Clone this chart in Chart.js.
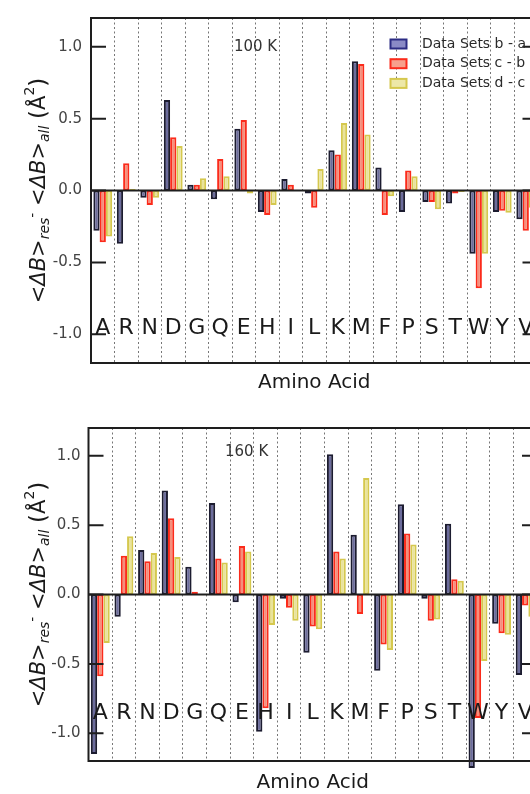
<!DOCTYPE html>
<html>
<head>
<meta charset="utf-8">
<script src="https://cdn.jsdelivr.net/npm/chart.js@4.4.1/dist/chart.umd.min.js"></script>
<style>
  html, body { margin: 0; padding: 0; background: #fff; overflow: hidden; }
  body { width: 530px; height: 794px; position: relative; }
  canvas { position: absolute; left: 0; }
  #c100 { top: 0; }
  #c160 { top: 396px; }
</style>
</head>
<body>
<canvas id="c100" width="560" height="396"></canvas>
<canvas id="c160" width="560" height="400"></canvas>
<script>
// residues on the x axis (no C)
var aminoAcids = ['A', 'R', 'N', 'D', 'G', 'Q', 'E', 'H', 'I', 'L', 'K', 'M', 'F', 'P', 'S', 'T', 'W', 'Y', 'V'];
var yTicks = [-1.0, -0.5, 0.0, 0.5, 1.0];
var seriesNames = ['Data Sets b - a', 'Data Sets c - b', 'Data Sets d - c'];

// 100 K
var ba100 = [-0.28, -0.37, -0.05, 0.63, 0.04, -0.06, 0.43, -0.15, 0.08, -0.02, 0.28, 0.90, 0.16, -0.15, -0.08, -0.09, -0.44, -0.15, -0.20];
var cb100 = [-0.36, 0.19, -0.10, 0.37, 0.04, 0.22, 0.49, -0.17, 0.04, -0.12, 0.25, 0.88, -0.17, 0.14, -0.08, -0.02, -0.68, -0.14, -0.28];
var dc100 = [-0.32, 0.01, -0.05, 0.31, 0.085, 0.10, -0.02, -0.10, 0.0, 0.15, 0.47, 0.39, -0.04, 0.10, -0.13, -0.01, -0.44, -0.155, -0.12];

// 160 K
var ba160 = [-1.15, -0.16, 0.32, 0.75, 0.20, 0.66, -0.055, -0.99, -0.03, -0.42, 1.01, 0.43, -0.55, 0.65, -0.03, 0.51, -1.25, -0.21, -0.58];
var cb160 = [-0.59, 0.28, 0.24, 0.55, 0.02, 0.26, 0.35, -0.82, -0.096, -0.23, 0.31, -0.14, -0.36, 0.44, -0.19, 0.11, -0.89, -0.28, -0.08];
var dc160 = [-0.35, 0.42, 0.30, 0.27, -0.005, 0.23, 0.31, -0.22, -0.19, -0.25, 0.26, 0.84, -0.40, 0.36, -0.18, 0.10, -0.48, -0.29, -0.16];

var fills = ['#6c6c9c', '#f58f7c', '#e9e39b'];
var borders = ['#1c1c30', '#fb2b1b', '#d5c84e'];
var legendFills = ['#8a8ac6', '#f7a08c', '#ede8a8'];
var legendBorders = ['#2c2c84', '#fb2b1b', '#d5c84e'];

Chart.defaults.font.family = '"DejaVu Sans", sans-serif';

function drawYTitle(ctx, cx, cy) {
  var parts = [
    { t: '<', s: 21 }, { t: '\u0394B', s: 21, it: true }, { t: '>', s: 21 },
    { t: 'res', s: 14, it: true, dy: 5 }, { t: '-', s: 14, dy: -7 }, { t: ' ', s: 21 },
    { t: '<', s: 21 }, { t: '\u0394B', s: 21, it: true }, { t: '>', s: 21 },
    { t: 'all', s: 14, it: true, dy: 5 }, { t: ' ', s: 21 },
    { t: '(', s: 23 }, { t: '\u00c5', s: 21 }, { t: '2', s: 14, dy: -10 }, { t: ')', s: 23 }
  ];
  var fam = '"DejaVu Sans", sans-serif';
  var total = 0;
  parts.forEach(function (p) {
    ctx.font = (p.it ? 'italic ' : '') + p.s + 'px ' + fam;
    p.w = ctx.measureText(p.t).width;
    total += p.w;
  });
  ctx.save();
  ctx.translate(cx, cy);
  ctx.rotate(-Math.PI / 2);
  ctx.fillStyle = '#1a1a1a';
  ctx.textAlign = 'left';
  ctx.textBaseline = 'middle';
  var px = -total / 2;
  parts.forEach(function (p) {
    ctx.font = (p.it ? 'italic ' : '') + p.s + 'px ' + fam;
    ctx.fillText(p.t, px, p.dy || 0);
    px += p.w;
  });
  ctx.restore();
}

function panelDecor(p) {
  return {
    id: 'panelDecor',
    afterDatasetsDraw: function (chart) {
      var ctx = chart.ctx, a = chart.chartArea;
      var x = chart.scales.x, y = chart.scales.y;
      ctx.save();
      ctx.strokeStyle = '#1e1e1e';
      ctx.lineWidth = 2;
      var y0 = y.getPixelForValue(0);
      ctx.beginPath();
      ctx.moveTo(a.left, y0);
      ctx.lineTo(a.right, y0);
      ctx.stroke();
      ctx.strokeRect(a.left, a.top, a.right - a.left, a.bottom - a.top);
      y.ticks.forEach(function (t) {
        var py = y.getPixelForValue(t.value);
        ctx.beginPath();
        ctx.moveTo(a.left, py); ctx.lineTo(a.left + 15, py);
        ctx.moveTo(a.right, py); ctx.lineTo(a.right - 15, py);
        ctx.stroke();
      });

      // residue letters inside the plot
      ctx.fillStyle = '#1a1a1a';
      ctx.font = '22px "DejaVu Sans"';
      ctx.textAlign = 'center';
      ctx.textBaseline = 'alphabetic';
      chart.data.labels.forEach(function (lab, i) {
        ctx.fillText(lab, x.getPixelForValue(i), y.getPixelForValue(p.letterBase));
      });

      // temperature
      ctx.fillStyle = '#333';
      ctx.font = '15px "DejaVu Sans"';
      ctx.textBaseline = 'middle';
      ctx.fillText(p.temp, x.getPixelForValue(p.tempX), y.getPixelForValue(p.tempY));

      if (p.legend) {
        ctx.textAlign = 'left';
        ctx.font = '14px "DejaVu Sans"';
        chart.data.datasets.forEach(function (ds, i) {
          var ry = a.top + 26 + i * 19.7;
          var bx = a.right - 147;
          ctx.fillStyle = legendFills[i];
          ctx.fillRect(bx, ry - 4.5, 16, 9);
          ctx.strokeStyle = legendBorders[i];
          ctx.lineWidth = 2;
          ctx.strokeRect(bx, ry - 4.5, 16, 9);
          ctx.fillStyle = '#2a2a2a';
          ctx.fillText(ds.label, bx + 31.5, ry);
        });
      }

      drawYTitle(ctx, 40, (a.top + a.bottom) / 2);
      ctx.restore();
    }
  };
}

function makePanel(id, series, p) {
  return new Chart(document.getElementById(id), {
    type: 'bar',
    data: {
      labels: aminoAcids,
      datasets: series.map(function (vals, i) {
        return {
          label: seriesNames[i],
          data: vals,
          backgroundColor: fills[i],
          borderColor: borders[i],
          borderWidth: 2,
          borderSkipped: false,
          categoryPercentage: 0.8,
          barPercentage: 1.0,
          clip: false
        };
      })
    },
    options: {
      responsive: false,
      animation: false,
      devicePixelRatio: 1,
      layout: { padding: p.padding },
      plugins: { legend: { display: false }, tooltip: { enabled: false } },
      scales: {
        x: {
          offset: true,
          ticks: { display: false },
          grid: { display: true, offset: true, color: '#666', lineWidth: 0.9, drawTicks: false },
          border: { display: false, dash: [2, 2.5] },
          title: {
            display: true, text: 'Amino Acid', color: '#1a1a1a',
            font: { size: 20 }, padding: { top: p.titlePad, bottom: 0 }
          }
        },
        y: {
          min: -1.2,
          max: 1.2,
          afterBuildTicks: function (s) {
            s.ticks = yTicks.map(function (v) { return { value: v }; });
          },
          afterFit: function (s) { s.width = p.axisWidth; },
          grid: { display: false, drawTicks: false },
          border: { display: false },
          ticks: {
            padding: p.tickPad,
            color: '#444',
            font: { size: 15 },
            callback: function (v) { return Number(v).toFixed(1); }
          }
        }
      }
    },
    plugins: [panelDecor(p)]
  });
}

makePanel('c100', [ba100, cb100, dc100], {
  padding: { left: 0, top: 13, right: 22.5, bottom: 1 },
  axisWidth: 91, tickPad: 9, titlePad: 8,
  letterBase: -1.0, temp: '100 K', tempX: 6.5, tempY: 1.0, legend: true
});

makePanel('c160', [ba160, cb160, dc160], {
  padding: { left: 0, top: 32, right: 23, bottom: 1 },
  axisWidth: 88.5, tickPad: 8, titlePad: 10,
  letterBase: -0.895, temp: '160 K', tempX: 6.2, tempY: 1.025, legend: false
});
</script>
</body>
</html>
